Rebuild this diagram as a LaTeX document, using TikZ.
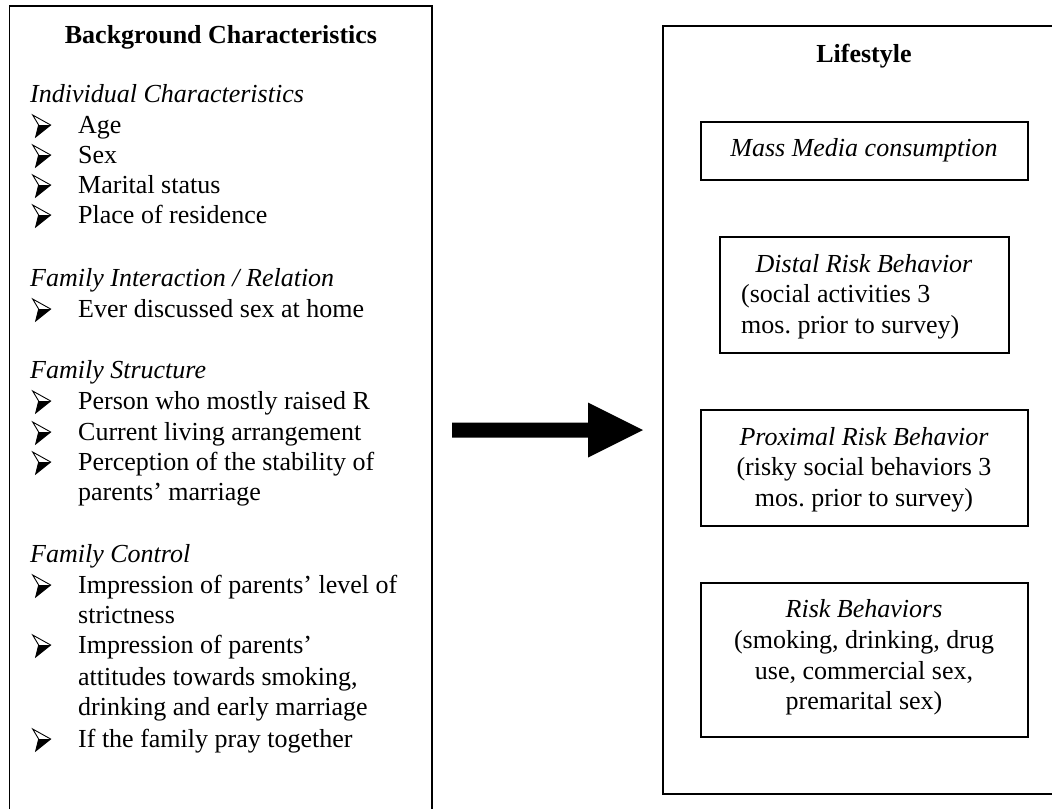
\documentclass[tikz,border=0pt]{standalone}
\usepackage{fontspec}
\setmainfont{Liberation Serif}
\frenchspacing
\newcommand\bul{\tikz[baseline=0pt,x=1pt,y=1pt]{%
  \fill (6,8) -- (18,8) -- (3,-4) -- cycle;
  \draw[line width=0.9pt, line join=miter] (0,18) -- (18,8) -- (3,-4) -- (6,8) -- cycle;}}
\newcommand\itm[1]{\makebox[46pt][l]{\bul}#1}
\begin{document}
\begin{tikzpicture}[x=1pt,y=-1pt,
  every node/.style={inner sep=0pt, font=\fontsize{26}{30}\selectfont},
  lt/.style={anchor=base west},
  ct/.style={anchor=base},
  hd/.style={anchor=base, font=\fontsize{26}{30}\selectfont\bfseries},
  sub/.style={anchor=base west, font=\fontsize{26}{30}\selectfont\itshape},
  ibox/.style={draw, line width=1.6pt},
  frame/.style={line width=1.6pt}]
\useasboundingbox (0,0) rectangle (1052,809);
% frames
\draw[frame] (9.5,809) -- (9.5,6) -- (432,6) -- (432,809);
\draw[frame] (1052,26) -- (663,26) -- (663,794) -- (1052,794);
% left content
\node[hd] (bgt) at (221,43) {Background Characteristics};
\node[sub] (s1) at (30,102) {Individual Characteristics};
\node[lt] (i1) at (32,133) {\itm{Age}};
\node[lt] (i2) at (32,163) {\itm{Sex}};
\node[lt] (i3) at (32,193) {\itm{Marital status}};
\node[lt] (i4) at (32,223) {\itm{Place of residence}};
\node[sub] (s2) at (30,286) {Family Interaction / Relation};
\node[lt] (i5) at (32,317) {\itm{Ever discussed sex at home}};
\node[sub] (s3) at (30,378) {Family Structure};
\node[lt] (i6) at (32,409) {\itm{Person who mostly raised R}};
\node[lt] (i7) at (32,440) {\itm{Current living arrangement}};
\node[lt] (i8) at (32,470) {\itm{Perception of the stability of}};
\node[lt] (i8b) at (78,500) {parents’ marriage};
\node[sub] (s4) at (30,562) {Family Control};
\node[lt] (i9) at (32,593) {\itm{Impression of parents’ level of}};
\node[lt] (i9b) at (78,623) {strictness};
\node[lt] (i10) at (32,653) {\itm{Impression of parents’}};
\node[lt] (i10b) at (78,685) {attitudes towards smoking,};
\node[lt] (i10c) at (78,715) {drinking and early marriage};
\node[lt] (i11) at (32,747) {\itm{If the family pray together}};
% right content
\node[hd] (lst) at (864,62) {Lifestyle};
\node[ibox, minimum width=327pt, minimum height=58pt] (mm) at (864.5,151) {};
\node[ct] (mmt) at (864,156) {\itshape Mass Media consumption};
\node[ibox, minimum width=289pt, minimum height=116pt] (dr) at (864.5,295) {};
\node[ct] (dr1) at (864,272) {\itshape Distal Risk Behavior};
\node[lt] (dr2) at (741,302) {(social activities 3};
\node[lt] (dr3) at (741,333) {mos. prior to survey)};
\node[ibox, minimum width=327pt, minimum height=116pt] (pr) at (864.5,468) {};
\node[ct] (pr1) at (864,445) {\itshape Proximal Risk Behavior};
\node[ct] (pr2) at (864,475) {(risky social behaviors 3};
\node[ct] (pr3) at (864,506) {mos. prior to survey)};
\node[ibox, minimum width=327pt, minimum height=154pt] (rb) at (864.5,660) {};
\node[ct] (rb1) at (864,617) {\itshape Risk Behaviors};
\node[ct] (rb2) at (864,648) {(smoking, drinking, drug};
\node[ct] (rb3) at (864,679) {use, commercial sex,};
\node[ct] (rb4) at (864,709) {premarital sex)};
% big arrow
\coordinate (a1) at (452,430);
\coordinate (a2) at (643,430);
\fill ([shift={(0,-7.5)}]a1) -- ([shift={(-55,-7.5)}]a2) -- ([shift={(-55,-27.5)}]a2) -- (a2)
  -- ([shift={(-55,27.5)}]a2) -- ([shift={(-55,7.5)}]a2) -- ([shift={(0,7.5)}]a1) -- cycle;
\end{tikzpicture}
\end{document}
